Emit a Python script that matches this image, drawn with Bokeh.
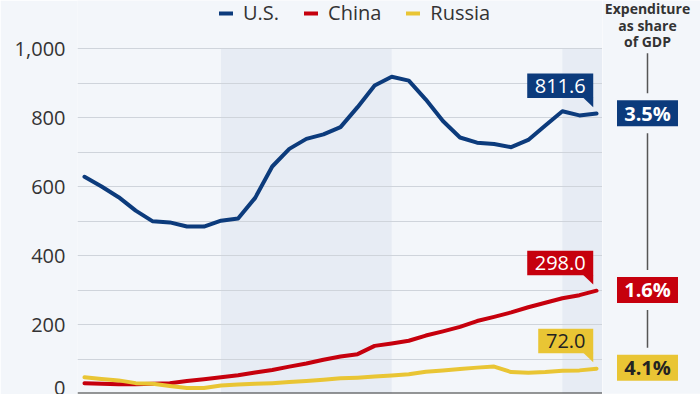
from bokeh.plotting import figure
from bokeh.layouts import row
from bokeh.models import (Range1d, Legend, LegendItem, BoxAnnotation, Span,
                          FixedTicker, NumeralTickFormatter)
from bokeh.core.properties import value
from bokeh.embed import file_html
from bokeh.resources import INLINE

# ---------------- data ----------------
years = list(range(1992, 2023))
us = [628, 600, 569, 530, 499, 496, 484, 484, 501, 507, 567, 658, 709, 738, 751, 772,
      830, 893, 918, 907, 852, 790, 742, 727, 723, 714, 735, 777, 818, 806, 811.6]
china = [30, 28, 27, 27, 28, 30, 36, 41, 47, 53, 61, 68, 78, 87, 98, 107,
         114, 138, 145, 153, 168, 180, 193, 210, 222, 235, 250, 263, 276, 285, 298.0]
russia = [47, 42, 38, 30, 28, 22, 16, 16, 23, 26, 28, 30, 33, 36, 40, 44,
          46, 49, 52, 56, 63, 67, 71, 75, 78, 62, 60, 62, 66, 67, 72.0]
series_names = ["U.S.", "China", "Russia"]
last_labels = ["811.6", "298.0", "72.0"]
gdp_share = ["3.5%", "1.6%", "4.1%"]
gdp_title_lines = ["Expenditure", "as share", "of GDP"]
y_ticks = [0, 200, 400, 600, 800, 1000]
y_minor_ticks = [100, 300, 500, 700, 900]
decade_starts = [2000, 2020]
decade_ends = [2010, None]

# ---------------- style ----------------
BG = "#f3f6fa"
BAND = "#e7ecf4"
GRID = "#cfd4db"
TXT = "#333333"
NAVY = "#0c3b7c"
RED = "#c6000d"
YELLOW = "#e9c534"
FONT = "Open Sans"
colors = [NAVY, RED, YELLOW]
label_text_colors = ["white", "white", "#222222"]
callout_widths = [66, 66, 55]
title_line_px = [8.5, 25, 41.5]   # pixel offsets of the title lines from the top

W_MAIN, W_SIDE, H = 602, 98, 394
BL, BB = 77, 1
PLOT_TOP_PX = 48          # pixel distance from canvas top to the 1,000 line
x0, x1 = 1991.59, 2022.35
y0, y1 = 0, 1000
frame_w = W_MAIN - BL
pxx = frame_w / (x1 - x0)
pxy = (H - BB - PLOT_TOP_PX) / (y1 - y0)
y_top = y1 + PLOT_TOP_PX / pxy

p = figure(width=W_MAIN, height=H, x_range=Range1d(x0, x1), y_range=Range1d(y0, y_top),
           output_backend="svg", toolbar_location=None, x_axis_location=None,
           min_border_left=BL, min_border_right=0, min_border_top=0, min_border_bottom=BB,
           background_fill_color=BG, border_fill_color=BG, outline_line_color=None)

# decade bands
for s, e in zip(decade_starts, decade_ends):
    p.add_layout(BoxAnnotation(left=s, right=e, bottom=y0, top=y1, fill_color=BAND,
                               fill_alpha=1, line_alpha=0, level="image"))

# grid / axis
p.xgrid.visible = False
p.yaxis.ticker = FixedTicker(ticks=y_ticks, minor_ticks=y_minor_ticks)
p.yaxis.formatter = NumeralTickFormatter(format="0,0")
p.ygrid.grid_line_color = GRID
p.ygrid.grid_line_width = 1
p.ygrid.minor_grid_line_color = GRID
p.ygrid.minor_grid_line_width = 1
p.yaxis.axis_line_color = None
p.yaxis.major_tick_line_color = None
p.yaxis.minor_tick_line_color = None
p.yaxis.major_label_text_font = FONT
p.yaxis.major_label_text_font_size = "20px"
p.yaxis.major_label_text_color = TXT
p.yaxis.major_label_standoff = 6
p.add_layout(Span(location=0, dimension="width", line_color="#333333", line_width=2))

renderers = []
for name, data, col in zip(series_names, [us, china, russia], colors):
    rr = p.line(years, data, line_color=col, line_width=4, line_join="round", line_cap="round")
    renderers.append(rr)

# end-value callouts (box + tail + text)
last_vals = [us[-1], china[-1], russia[-1]]
box_x, box_y, tail_xs, tail_ys = [], [], [], []
for v, w in zip(last_vals, callout_widths):
    right = years[-1] - 3.3 / pxx
    box_x.append(right - (w / 2) / pxx)
    box_y.append(v + (15.5 + 12.2) / pxy)
    base = v + 15.8 / pxy
    tip = v + 6.3 / pxy
    tail_xs.append([right - 10 / pxx, right, right])
    tail_ys.append([base, base, tip])
p.patches(tail_xs, tail_ys, fill_color=colors, line_color=None)
p.rect(x=box_x, y=box_y, width=callout_widths, height=24.5, width_units="screen",
       height_units="screen", fill_color=colors, line_color=None)
p.text(x=box_x, y=box_y, text=last_labels, text_align="center", text_baseline="middle",
       text_font=value(FONT), text_font_size="20px", text_color=label_text_colors)

legend = Legend(items=[LegendItem(label=n, renderers=[r]) for n, r in zip(series_names, renderers)],
                orientation="horizontal", location=(142, 367),
                label_text_font=FONT, label_text_font_size="20px", label_text_color=TXT,
                glyph_width=14, glyph_height=20, label_height=20, label_standoff=10,
                spacing=25, padding=0, margin=0,
                background_fill_alpha=0, border_line_alpha=0)
p.add_layout(legend, "center")

# ---------------- side panel: share of GDP ----------------
r = figure(width=W_SIDE, height=H, x_range=Range1d(0, W_SIDE),
           y_range=Range1d(y0 - BB / pxy, y_top),
           output_backend="svg", toolbar_location=None,
           x_axis_location=None, y_axis_location=None,
           min_border_left=0, min_border_right=0, min_border_top=0, min_border_bottom=0,
           background_fill_color=BG, border_fill_color=BG, outline_line_color=None)
r.xgrid.visible = False
r.ygrid.visible = False
cx = 45
r.text(x=[cx] * len(gdp_title_lines), y=[y_top - t / pxy for t in title_line_px],
       text=gdp_title_lines, text_align="center", text_baseline="middle",
       text_font=value(FONT), text_font_style="bold", text_font_size="14px",
       text_color=TXT)
gap = 20 / pxy
seg_top = [y_top - 53 / pxy, last_vals[0] - gap, last_vals[1] - gap]
seg_bot = [last_vals[0] + gap, last_vals[1] + gap, last_vals[2] + gap]
r.segment(x0=[cx] * 3, y0=seg_top, x1=[cx] * 3, y1=seg_bot, line_color="#555555", line_width=1.5)
r.rect(x=[cx] * 3, y=last_vals, width=61, height=26, width_units="screen", height_units="screen",
       fill_color=colors, line_color=None)
r.text(x=[cx] * 3, y=last_vals, text=gdp_share, text_align="center", text_baseline="middle",
       text_font=value(FONT), text_font_style="bold", text_font_size="20px",
       text_color=label_text_colors)

layout = row(p, r)
open("out.html", "w").write(file_html(layout, INLINE))
